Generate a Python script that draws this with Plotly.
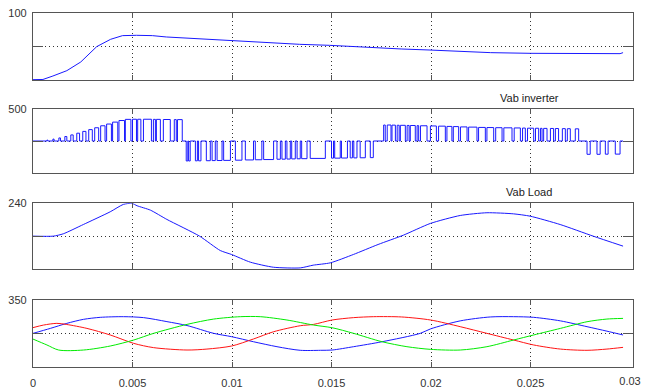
import plotly.graph_objects as go

# ---------------- data ----------------
X_TICKS = [0, 0.005, 0.01, 0.015, 0.02, 0.025]
X_TICK_TEXT = ["0", "0.005", "0.01", "0.015", "0.02", "0.025"]
X_LAST_TICK = 0.03
X_LAST_TEXT = "0.03"
X_MAX = 0.03015

# panel 1 (top)
dc_time = [0, 0.0005, 0.001, 0.0017, 0.0024, 0.0032, 0.0039, 0.0045, 0.0052, 0.006,
           0.0067, 0.0084, 0.0099, 0.0118, 0.0134, 0.0149, 0.0164, 0.0185, 0.0199,
           0.0218, 0.023, 0.025, 0.0295, 0.02965]
dc_value = [0.5, 0.8, 6, 14, 27, 50, 61, 66.5, 67, 66.5, 64.5, 61.5, 59, 56, 53.5,
            52, 49.5, 46.5, 45, 42.5, 41, 40, 39.5, 41]

# panel 2: Vab inverter, PWM pulses (ms start, ms end, level V)
pulse_start_ms = [0.70, 1.00, 1.30, 1.60, 1.90, 2.20, 2.50, 2.80, 3.10, 3.40, 3.70, 4.00, 4.32, 4.64,
                  5.00, 5.26, 5.55, 6.05, 6.20, 6.55, 7.10, 7.26,
                  7.70, 7.82, 8.16, 8.32, 8.71, 9.00, 9.25, 9.58, 10.17, 10.67, 11.17, 11.59, 12.26,
                  12.51, 12.76, 13.00, 13.27, 13.50, 13.93, 15.00, 15.16, 15.50, 15.94, 16.12, 16.44, 16.95,
                  17.62, 17.80, 18.04, 18.30, 18.46, 18.80, 18.96, 19.30, 19.47, 19.97, 20.38, 20.80,
                  21.12, 21.48, 21.89, 22.39, 22.81, 23.25, 23.66, 24.18, 24.60, 24.85, 25.25, 25.50,
                  25.66, 26.00, 26.25, 26.60, 26.85, 27.25,
                  27.84, 28.34, 28.76, 29.26]
pulse_end_ms = [0.74, 1.06, 1.38, 1.70, 2.02, 2.34, 2.66, 2.98, 3.30, 3.62, 3.94, 4.26, 4.60, 4.92,
                5.20, 5.42, 5.95, 6.15, 6.40, 6.90, 7.20, 7.50,
                7.78, 7.90, 8.26, 8.44, 8.91, 9.16, 9.50, 9.92, 10.50, 11.08, 11.50, 12.09, 12.43,
                12.68, 12.93, 13.18, 13.43, 13.77, 14.69, 15.10, 15.44, 15.80, 16.05, 16.28, 16.70, 17.10,
                17.70, 17.99, 18.21, 18.40, 18.71, 18.90, 19.21, 19.38, 19.80, 20.27, 20.72, 21.05,
                21.39, 21.81, 22.31, 22.73, 23.15, 23.57, 24.07, 24.49, 24.74, 25.16, 25.41, 25.58,
                25.83, 26.16, 26.41, 26.75, 27.00, 27.42,
                28.00, 28.50, 28.90, 29.50]
pulse_level = [15, 30, 48, 70, 95, 122, 150, 178, 207, 238, 265, 295, 320, 338,
               340, 340, 340, 338, 338, 336, 334, 334,
               -312, -312, -310, -310, -308, -306, -305, -303, -300, -296, -293, -290, -285,
               -284, -282, -280, -278, -276, -272, -268, -268, -266, -264, -264, -262, -260,
               250, 250, 248, 246, 245, 243, 242, 240, 238, 235, 232, 228,
               225, 220, 217, 212, 210, 208, 206, 204, 202, 200, 199, 198,
               197, 196, 195, 193, 192, 190,
               -208, -208, -206, -205]
inverter_end_ms = 29.65

# panel 3: Vab Load
load_time = [0, 0.00102, 0.00152, 0.00253, 0.00388, 0.00454, 0.00497, 0.00523, 0.0059,
             0.00673, 0.00837, 0.00941, 0.00998, 0.01092, 0.01208, 0.01343, 0.01408,
             0.01494, 0.0161, 0.01734, 0.01861, 0.01997, 0.02147, 0.02281, 0.02414,
             0.02498, 0.02649, 0.02815, 0.02965]
load_value = [0, 0, 17, 85, 178, 232, 240, 222, 190, 122, 0, -105, -134, -190, -227,
              -232, -212, -195, -134, -61, 7, 93, 151, 171, 163, 146, 85, 0, -73]

# panel 4: three phase signals
phase_a_time = [0, 0.00087, 0.0017, 0.00254, 0.00338, 0.00455, 0.00556, 0.00673, 0.00774,
                0.00908, 0.00998, 0.01108, 0.01226, 0.01343, 0.01444, 0.01503, 0.01611,
                0.01754, 0.01946, 0.01998, 0.02147, 0.02298, 0.02415, 0.02516, 0.0265,
                0.02784, 0.02884, 0.02965]
phase_a = [0, 52, 105, 147, 168, 175, 165, 123, 82, 0, -35, -88, -140, -178, -178, -175,
           -140, -88, 0, 47, 131, 172, 175, 168, 131, 70, 23, -17]
phase_b_time = [0, 0.00053, 0.0012, 0.0017, 0.00271, 0.00388, 0.00506, 0.00606, 0.00774,
                0.00874, 0.00998, 0.01108, 0.01209, 0.01343, 0.0141, 0.01503, 0.01611,
                0.01712, 0.01852, 0.01998, 0.02147, 0.02281, 0.02415, 0.02516, 0.0265,
                0.02784, 0.02884, 0.02965]
phase_b = [60, 87, 105, 93, 52, -17, -105, -150, -175, -165, -133, -59, 17, 80, 94, 140,
           165, 175, 172, 140, 70, 0, -70, -122, -165, -178, -165, -147]
phase_c_time = [0, 0.0007, 0.00129, 0.00254, 0.00388, 0.00506, 0.00606, 0.00774, 0.00908,
                0.01042, 0.01142, 0.01276, 0.0141, 0.01503, 0.01611, 0.01754, 0.01879,
                0.01998, 0.02147, 0.02281, 0.02415, 0.02516, 0.0265, 0.02784, 0.02884,
                0.02965]
phase_c = [-60, -122, -175, -175, -133, -70, 0, 94, 150, 175, 175, 140, 87, 59, 0, -88,
           -140, -168, -175, -140, -70, -17, 52, 122, 150, 157]

# y-axis limits / top labels per panel
y_low = [0, -500, -240, -350]
y_high = [100, 500, 240, 350]
y_mid = [50, 0, 0, 0]
panel_titles = ["", "Vab inverter", "Vab Load", ""]

# ---------------- figure ----------------
W, H = 653, 389
BODY_MARGIN = 8  # default page margin before the plot div
X_LEFT, X_RIGHT = 33, 633                      # page pixels
PANEL_PX = [(13.3, 80), (109, 173), (203.3, 269), (300, 366.7)]  # page pixels


def px_x(px):
    return (px - BODY_MARGIN) / W


def px_y(py):
    return 1 - (py - BODY_MARGIN) / H


BLUE = "rgb(25,25,255)"
RED = "rgb(255,20,20)"
GREEN = "rgb(0,235,0)"
FONT = "Liberation Sans, Arial, sans-serif"

fig = go.Figure()

# panel 1
fig.add_trace(go.Scatter(x=dc_time, y=dc_value, mode="lines",
                         line=dict(color=BLUE, width=1), xaxis="x", yaxis="y"))

# panel 2 step trace built from pulse lists
inv_x, inv_y = [0.0], [0.0]
for s, e, lv in zip(pulse_start_ms, pulse_end_ms, pulse_level):
    inv_x += [s / 1000, s / 1000, e / 1000, e / 1000]
    inv_y += [0, lv, lv, 0]
inv_x.append(inverter_end_ms / 1000)
inv_y.append(0)
fig.add_trace(go.Scatter(x=inv_x, y=inv_y, mode="lines",
                         line=dict(color=BLUE, width=1), xaxis="x2", yaxis="y2"))

# panel 3
fig.add_trace(go.Scatter(x=load_time, y=load_value, mode="lines", line_shape="spline",
                         line=dict(color=BLUE, width=1, smoothing=0.6), xaxis="x3", yaxis="y3"))

# panel 4
fig.add_trace(go.Scatter(x=phase_a_time, y=phase_a, mode="lines", line_shape="spline",
                         line=dict(color=BLUE, width=1, smoothing=0.8), xaxis="x4", yaxis="y4"))
fig.add_trace(go.Scatter(x=phase_b_time, y=phase_b, mode="lines", line_shape="spline",
                         line=dict(color=RED, width=1, smoothing=0.8), xaxis="x4", yaxis="y4"))
fig.add_trace(go.Scatter(x=phase_c_time, y=phase_c, mode="lines", line_shape="spline",
                         line=dict(color=GREEN, width=1, smoothing=0.8), xaxis="x4", yaxis="y4"))

layout = dict(
    width=W, height=H,
    margin=dict(l=0, r=0, t=0, b=0, autoexpand=False),
    paper_bgcolor="white", plot_bgcolor="white",
    showlegend=False,
    font=dict(family=FONT, size=11, color="#333"),
)
AX_COLOR = "#555"
GRID_COLOR = "#333"
GRID_DASH = "1px,3px"
xd = [px_x(X_LEFT), px_x(X_RIGHT)]
for i in range(4):
    n = "" if i == 0 else str(i + 1)
    top, bot = PANEL_PX[i]
    yd = [px_y(bot), px_y(top)]
    layout["xaxis" + n] = dict(
        domain=xd, range=[0, X_MAX], anchor="y" + n,
        tickvals=X_TICKS,
        ticktext=X_TICK_TEXT if i == 3 else [""] * len(X_TICKS),
        ticks="inside", ticklen=5, tickcolor=AX_COLOR,
        showline=True, linecolor=AX_COLOR, linewidth=1.2, mirror="ticks",
        showgrid=True, gridcolor=GRID_COLOR, griddash=GRID_DASH, gridwidth=1,
        zeroline=False, fixedrange=True, ticklabelstandoff=6, automargin=False,
        ticklabeloverflow="allow",
        tickfont=dict(family=FONT, size=11, color="#333"),
    )
    layout["yaxis" + n] = dict(
        domain=yd, range=[y_low[i], y_high[i]], anchor="x" + n,
        tickvals=[y_mid[i], y_high[i]],
        ticktext=["", str(y_high[i])],
        ticks="inside", ticklen=10, tickcolor=AX_COLOR,
        showline=True, linecolor=AX_COLOR, linewidth=1.2, mirror="ticks",
        showgrid=True, gridcolor=GRID_COLOR, griddash=GRID_DASH, gridwidth=1,
        zeroline=False, fixedrange=True, ticklabelstandoff=3, automargin=False,
        ticklabeloverflow="allow",
        tickfont=dict(family=FONT, size=11, color="#333"),
    )

# extra overlay axis carrying only the last x label (no grid line next to border)
layout["xaxis5"] = dict(
    domain=xd, range=[0, X_MAX], anchor="y4", overlaying="x4",
    tickvals=[X_LAST_TICK], ticktext=[X_LAST_TEXT], ticks="",
    showline=False, showgrid=False, zeroline=False, fixedrange=True,
    ticklabelstandoff=6, side="bottom", automargin=False, ticklabeloverflow="allow",
    tickfont=dict(family=FONT, size=11, color="#333"),
)
fig.add_trace(go.Scatter(x=[X_LAST_TICK], y=[0], mode="markers", marker=dict(opacity=0),
                         xaxis="x5", yaxis="y4", hoverinfo="skip"))

fig.update_layout(**layout)

annotations = []
for i, title in enumerate(panel_titles):
    if not title:
        continue
    top, _ = PANEL_PX[i]
    annotations.append(dict(text=title, xref="paper", yref="paper",
                            x=px_x(529), y=px_y(top - 11.5), xanchor="center", yanchor="middle",
                            showarrow=False, font=dict(family=FONT, size=11, color="#222")))
fig.update_layout(annotations=annotations)

fig.write_html("out.html")
